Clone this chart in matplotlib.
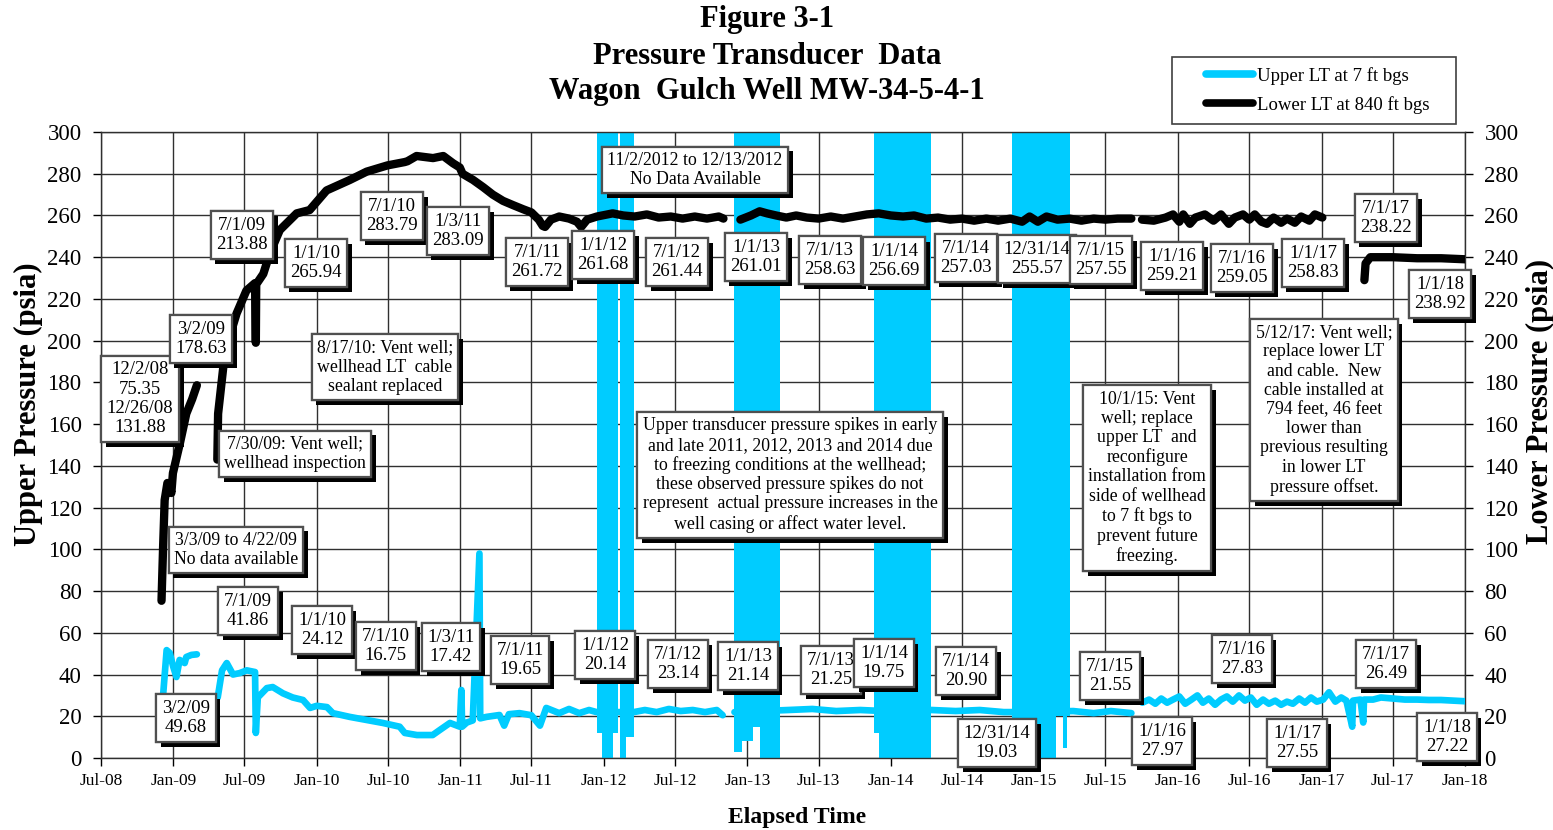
import numpy as np
import matplotlib
matplotlib.use("Agg")
import matplotlib.pyplot as plt
import matplotlib.dates as mdates
import matplotlib.patheffects as pe
from matplotlib.lines import Line2D
from matplotlib.patches import Rectangle

plt.rcParams['font.family'] = ['Liberation Serif', 'DejaVu Serif']

NaN = np.nan
CYAN = '#00CCFF'

# ---------------- data ----------------
lower_name = 'Lower LT at 840 ft bgs'
lower_dates = [
    '2008-12-02', '2008-12-06', '2008-12-10', '2008-12-17', '2008-12-22', '2008-12-27', '2008-12-31',
    '2009-01-18', '2009-02-03', '2009-02-18', '2009-03-02', '2009-03-20',
    '2009-04-23', '2009-04-25', '2009-05-08', '2009-05-21', '2009-06-11', '2009-07-06', '2009-07-28',
    '2009-07-30', '2009-07-31', '2009-08-18', '2009-09-04', '2009-09-29', '2009-11-11', '2009-12-14',
    '2010-01-26', '2010-03-26', '2010-05-08', '2010-06-30', '2010-08-13', '2010-08-20', '2010-09-12',
    '2010-10-24', '2010-11-19', '2010-12-14', '2010-12-31', '2011-01-07', '2011-02-03', '2011-03-01',
    '2011-03-25', '2011-04-20', '2011-05-15', '2011-06-10', '2011-07-01', '2011-07-20', '2011-07-30',
    '2011-08-05', '2011-08-20', '2011-09-10', '2011-10-05', '2011-10-25', '2011-11-05', '2011-11-20',
    '2011-12-15', '2012-01-24', '2012-02-20', '2012-03-20', '2012-04-20', '2012-05-20', '2012-06-20',
    '2012-07-20', '2012-08-20', '2012-09-20', '2012-10-20', '2012-11-01', '2012-11-20',
    '2012-12-14', '2013-01-10', '2013-02-01', '2013-02-20', '2013-03-15', '2013-04-10', '2013-05-05',
    '2013-06-01', '2013-07-01', '2013-08-01', '2013-09-01', '2013-10-01', '2013-11-01', '2013-12-01',
    '2014-01-01', '2014-02-01', '2014-03-01', '2014-04-01', '2014-05-01', '2014-06-01', '2014-07-01',
    '2014-08-01', '2014-09-01', '2014-10-01', '2014-11-01', '2014-12-01', '2014-12-20', '2015-01-10',
    '2015-02-01', '2015-03-01', '2015-04-01', '2015-05-01', '2015-06-01', '2015-07-01', '2015-08-01',
    '2015-09-05', '2015-09-20',
    '2015-10-02', '2015-11-01', '2015-12-01', '2015-12-20', '2016-01-05', '2016-01-15', '2016-02-01',
    '2016-02-15', '2016-03-10', '2016-04-01', '2016-04-20', '2016-05-10', '2016-05-25', '2016-06-15',
    '2016-07-01', '2016-07-15', '2016-08-01', '2016-08-15', '2016-09-01', '2016-09-20', '2016-10-05',
    '2016-10-25', '2016-11-10', '2016-12-01', '2016-12-15', '2017-01-03', '2017-02-01',
    '2017-04-20', '2017-04-23', '2017-05-05', '2017-07-01', '2017-09-01', '2017-11-01', '2018-01-01',
]
lower_psia = [
    75.35, 101, 123.6, 131.8, 131.5, 127, 136.5,
    151, 165, 172, 178.63, NaN,
    143, 165, 187, 200, 213, 224, 227.6,
    199, 227, 232, 242, 253, 261, 262.6,
    272, 277, 281, 284, 285.6, 286, 288.5,
    287.5, 288.5, 285, 283, 280, 277, 273.5,
    270, 267, 265, 263, 261.5, 258, 255,
    254.5, 258, 259.5, 258.5, 257, 254.5, 258,
    259.5, 261, 260, 259.5, 260.5, 259, 259.5,
    258.5, 259.5, 258.5, 259.5, 258.5, NaN,
    258, 260, 262, 261, 260, 259, 260,
    259, 258.5, 259.5, 258.5, 259.5, 260.5, 261,
    260, 259.5, 260, 258.5, 259, 258, 258.5,
    257.5, 258.5, 257.5, 258.5, 257, 259.5, 257,
    259.5, 258, 258.5, 257.5, 258.5, 258, 258.5,
    258.5, NaN,
    258, 257.5, 259, 260.5, 257, 260.5, 256,
    259, 260.5, 257.5, 260.5, 256, 259, 260.5,
    258, 260.5, 257, 256, 259, 256.5, 258.5,
    256.5, 259.5, 257.5, 260.5, 259, NaN,
    229, 237, 240, 240, 239.5, 239.5, 239,
]

upper_name = 'Upper LT at 7 ft bgs'
upper_dates = [
    '2008-12-06', '2008-12-15', '2008-12-23', '2009-01-01', '2009-01-09', '2009-01-17', '2009-01-30',
    '2009-02-03', '2009-02-16', '2009-03-02', '2009-03-20',
    '2009-04-24', '2009-05-05', '2009-05-17', '2009-06-02', '2009-06-19', '2009-07-07', '2009-07-28',
    '2009-07-30', '2009-08-04', '2009-08-27', '2009-09-11', '2009-10-07', '2009-11-01', '2009-11-27',
    '2009-12-15', '2010-01-01', '2010-01-27', '2010-02-11', '2010-03-26', '2010-05-08', '2010-06-18',
    '2010-07-31', '2010-08-13', '2010-09-13', '2010-10-23', '2010-11-10', '2010-12-06', '2010-12-31',
    '2011-01-04', '2011-01-06', '2011-01-18', '2011-02-02', '2011-02-19', '2011-02-21', '2011-03-09',
    '2011-04-11', '2011-04-23', '2011-05-05', '2011-06-01', '2011-07-01', '2011-07-23', '2011-08-08',
    '2011-09-10', '2011-10-05', '2011-10-31', '2011-11-25', '2011-12-14', '2012-03-18', '2012-04-15',
    '2012-05-15', '2012-06-15', '2012-07-15', '2012-08-15', '2012-09-15', '2012-10-15', '2012-10-30',
    '2012-11-10',
    '2012-11-29', '2013-04-15', '2013-06-15', '2013-08-15', '2013-10-15', '2013-12-15', '2014-04-15',
    '2014-06-15', '2014-08-15', '2014-10-15', '2014-12-15', '2015-04-10', '2015-06-01', '2015-07-15',
    '2015-09-05', '2015-09-20',
    '2015-10-03', '2015-10-20', '2015-11-05', '2015-11-20', '2015-12-05', '2015-12-20', '2016-01-05',
    '2016-01-20', '2016-02-05', '2016-02-20', '2016-03-05', '2016-03-20', '2016-04-05', '2016-04-20',
    '2016-05-05', '2016-05-20', '2016-06-05', '2016-06-20', '2016-07-05', '2016-07-20', '2016-08-05',
    '2016-08-20', '2016-09-05', '2016-09-20', '2016-10-05', '2016-10-20', '2016-11-05', '2016-11-20',
    '2016-12-05', '2016-12-20', '2017-01-05', '2017-01-20', '2017-02-05', '2017-02-20', '2017-03-05',
    '2017-03-20', '2017-03-22', '2017-04-10', '2017-04-17', '2017-04-19', '2017-05-12', '2017-06-01',
    '2017-07-01', '2017-08-01', '2017-09-01', '2017-10-01', '2017-11-01', '2017-12-01', '2018-01-01',
]
upper_psia = [
    30, 51.7, 50.3, 43.6, 38.8, 47, 45.5,
    48.4, 49.4, 49.68, NaN,
    29, 42, 45.5, 40, 40.7, 42, 41.2,
    12, 29, 33.5, 34, 31, 29, 27.8,
    24, 25, 24.4, 21.5, 19.7, 18.2, 16.8,
    15, 12, 11, 11, 13.4, 16.8, 15,
    32.6, 15, 17, 18, 98, 19, 19.7,
    20.6, 15.5, 21, 21.5, 20.5, 15.5, 24,
    21.5, 23.5, 21.5, 23, 22, 22, 23,
    22, 23.5, 22.5, 23, 22, 23, 20.5,
    NaN,
    22, 23, 23.5, 22.5, 23, 22.5, 23,
    22.5, 23, 22, 22, 22.5, 21.5, 22.5,
    21.5, NaN,
    26.5, 28, 26, 28.5, 26.5, 28, 29.5,
    26, 28, 30, 26.5, 28.5, 25.5, 28,
    29.5, 27, 30, 27.5, 29, 25.5, 28,
    26, 27.5, 25.5, 27, 26, 28.5, 26.5,
    29, 27, 28, 31.5, 27, 29, 27.5,
    15, 27.5, 28, 17, 28, 28, 29,
    28.5, 28, 28, 27.8, 27.8, 27.5, 27.2,
]

# freezing-spike envelopes of the upper transducer (spikes run above the chart top)
freeze_start = ['2011-12-14', '2011-12-29', '2012-01-24', '2012-02-11', '2012-02-26',
                '2012-11-29', '2012-12-17', '2013-01-14', '2013-02-01',
                '2013-11-18', '2013-12-03',
                '2014-11-04', '2015-01-14', '2015-02-26', '2015-03-14', '2015-03-26']
freeze_end = ['2011-12-29', '2012-01-24', '2012-02-07', '2012-02-26', '2012-03-18',
              '2012-12-17', '2013-01-14', '2013-02-01', '2013-03-24',
              '2013-12-03', '2014-04-12',
              '2015-01-14', '2015-02-26', '2015-03-14', '2015-03-26', '2015-04-03']
freeze_low = [12, 0, 12, 0, 10,
              3, 8, 15, 0,
              12, 0,
              5, 0, 20, 5, 20]
freeze_high = 320

x_tick_dates = ['2008-07-01', '2009-01-01', '2009-07-01', '2010-01-01', '2010-07-01', '2011-01-01',
                '2011-07-01', '2012-01-01', '2012-07-01', '2013-01-01', '2013-07-01', '2014-01-01',
                '2014-07-01', '2015-01-01', '2015-07-01', '2016-01-01', '2016-07-01', '2017-01-01',
                '2017-07-01', '2018-01-01']
y_ticks = list(range(0, 301, 20))

title_lines = ['Figure 3-1', 'Pressure Transducer  Data', 'Wagon  Gulch Well MW-34-5-4-1']

# annotation boxes: (text, axes-x, axes-y)
value_boxes = [
    ('12/2/08\n75.35\n12/26/08\n131.88', 0.0286, 0.5735),
    ('3/2/09\n178.63', 0.0733, 0.6693),
    ('7/1/09\n213.88', 0.1034, 0.8355),
    ('1/1/10\n265.94', 0.1576, 0.7907),
    ('7/1/10\n283.79', 0.2133, 0.8658),
    ('1/3/11\n283.09', 0.2617, 0.8419),
    ('7/1/11\n261.72', 0.3196, 0.7923),
    ('1/1/12\n261.68', 0.3680, 0.8035),
    ('7/1/12\n261.44', 0.4223, 0.7923),
    ('1/1/13\n261.01', 0.4802, 0.8003),
    ('7/1/13\n258.63', 0.5345, 0.7955),
    ('1/1/14\n256.69', 0.5814, 0.7939),
    ('7/1/14\n257.03', 0.6342, 0.7987),
    ('12/31/14\n255.57', 0.6862, 0.7971),
    ('7/1/15\n257.55', 0.7331, 0.7955),
    ('1/1/16\n259.21', 0.7852, 0.7859),
    ('7/1/16\n259.05', 0.8365, 0.7827),
    ('1/1/17\n258.83', 0.8886, 0.7907),
    ('7/1/17\n238.22', 0.9421, 0.8626),
    ('1/1/18\n238.92', 0.9817, 0.7412),
    ('3/2/09\n49.68', 0.0623, 0.0639),
    ('7/1/09\n41.86', 0.1078, 0.2348),
    ('1/1/10\n24.12', 0.1620, 0.2045),
    ('7/1/10\n16.75', 0.2089, 0.1789),
    ('1/3/11\n17.42', 0.2566, 0.1773),
    ('7/1/11\n19.65', 0.3072, 0.1565),
    ('1/1/12\n20.14', 0.3695, 0.1645),
    ('7/1/12\n23.14', 0.4230, 0.1502),
    ('1/1/13\n21.14', 0.4743, 0.1470),
    ('7/1/13\n21.25', 0.5352, 0.1406),
    ('1/1/14\n19.75', 0.5740, 0.1518),
    ('7/1/14\n20.90', 0.6342, 0.1390),
    ('12/31/14\n19.03', 0.6569, 0.0240),
    ('7/1/15\n21.55', 0.7397, 0.1310),
    ('1/1/16\n27.97', 0.7779, 0.0272),
    ('7/1/16\n27.83', 0.8365, 0.1581),
    ('1/1/17\n27.55', 0.8768, 0.0240),
    ('7/1/17\n26.49', 0.9421, 0.1502),
    ('1/1/18\n27.22', 0.9868, 0.0335),
]
note_boxes = [
    ('8/17/10: Vent well;\nwellhead LT  cable\nsealant replaced', 0.2082, 0.6246),
    ('7/30/09: Vent well;\nwellhead inspection', 0.1422, 0.4856),
    ('3/3/09 to 4/22/09\nNo data available', 0.0990, 0.3323),
    ('11/2/2012 to 12/13/2012\nNo Data Available', 0.4355, 0.9393),
    ('Upper transducer pressure spikes in early\nand late 2011, 2012, 2013 and 2014 due\n'
     'to freezing conditions at the wellhead;\nthese observed pressure spikes do not\n'
     'represent  actual pressure increases in the\nwell casing or affect water level.', 0.5051, 0.4521),
    ('10/1/15: Vent\nwell; replace\nupper LT  and\nreconfigure\ninstallation from\nside of wellhead\n'
     'to 7 ft bgs to\nprevent future\nfreezing.', 0.7669, 0.4473),
    ('5/12/17: Vent well;\nreplace lower LT\nand cable.  New\ncable installed at\n794 feet, 46 feet\n'
     'lower than\nprevious resulting\nin lower LT\npressure offset.', 0.8966, 0.5559),
]

# ---------------- figure ----------------
W, H = 1553, 830
fig = plt.figure(figsize=(W / 100, H / 100), dpi=100)
ax = fig.add_axes([101 / W, 72 / H, 1364 / W, 626 / H])

ld = np.array(lower_dates, dtype='datetime64[D]')
ud = np.array(upper_dates, dtype='datetime64[D]')

for s, e, lo in zip(freeze_start, freeze_end, freeze_low):
    xs = np.array([s, e], dtype='datetime64[D]')
    ax.fill_between(xs, [lo, lo], [freeze_high, freeze_high], color=CYAN, lw=0, zorder=2)

ax.plot(ud, upper_psia, color=CYAN, lw=4.8, solid_capstyle='round', solid_joinstyle='round',
        zorder=3, label=upper_name)
ax.plot(ld, lower_psia, color='black', lw=6, solid_capstyle='round', solid_joinstyle='round',
        zorder=4, label=lower_name)

ax.set_xlim(np.datetime64('2008-07-01'), np.datetime64('2018-01-01'))
ax.set_ylim(0, 300)
ax.set_xticks(np.array(x_tick_dates, dtype='datetime64[D]'))
ax.xaxis.set_major_formatter(mdates.DateFormatter('%b-%y'))
ax.set_yticks(y_ticks)
ax.grid(True, color='#303030', lw=1.0)
ax.set_axisbelow(True)
for sp in ax.spines.values():
    sp.set_color('#303030')
    sp.set_linewidth(1.0)
ax.tick_params(axis='y', which='both', left=True, right=True, labelleft=True, labelright=True,
               direction='out', length=6, width=1, pad=8, labelsize=16.5)
ax.tick_params(axis='x', direction='out', length=6, width=1, pad=5, labelsize=12.5)


def add_box(txt, fx, fy, size, ls):
    t = ax.text(fx, fy, txt, transform=ax.transAxes, ha='center', va='center', fontsize=size,
                linespacing=ls, zorder=10,
                bbox=dict(boxstyle='square,pad=0.3', fc='white', ec='#505050', lw=1.6))
    t.get_bbox_patch().set_path_effects([
        pe.withSimplePatchShadow(offset=(3.5, -3.5), shadow_rgbFace='black', alpha=1.0),
        pe.Normal()])
    return t


for txt, fx, fy in value_boxes:
    add_box(txt, fx, fy, 13.5, 1.18)
for txt, fx, fy in note_boxes:
    add_box(txt, fx, fy, 12.8, 1.17)

# titles and axis labels
for line, yc in zip(title_lines, [20, 57, 92]):
    fig.text(767 / W, 1 - yc / H, line, ha='center', va='center', fontsize=22, fontweight='bold')
fig.text(797 / W, 1 - 817 / H, 'Elapsed Time', ha='center', va='center', fontsize=17, fontweight='bold')
fig.text(28 / W, 1 - 404 / H, 'Upper Pressure (psia)', ha='center', va='center', rotation=90,
         fontsize=22, fontweight='bold')
fig.text(1540 / W, 1 - 401 / H, 'Lower Pressure (psia)', ha='center', va='center', rotation=90,
         fontsize=22, fontweight='bold')

# legend
fig.patches.append(Rectangle((1172 / W, 1 - 124 / H), 284 / W, 67 / H, transform=fig.transFigure,
                             fc='white', ec='#404040', lw=1.2, zorder=1))
handles = [Line2D([], [], color=CYAN, lw=5.5, solid_capstyle='round'),
           Line2D([], [], color='black', lw=5.5, solid_capstyle='round')]
leg = fig.legend(handles, [upper_name, lower_name], loc='center left',
                 bbox_to_anchor=(1193 / W, 1 - 90.5 / H), frameon=False, fontsize=13.5,
                 handlelength=2.5, handletextpad=0.2, labelspacing=0.6, borderpad=0.2)

fig.savefig('out.png', dpi=100)
